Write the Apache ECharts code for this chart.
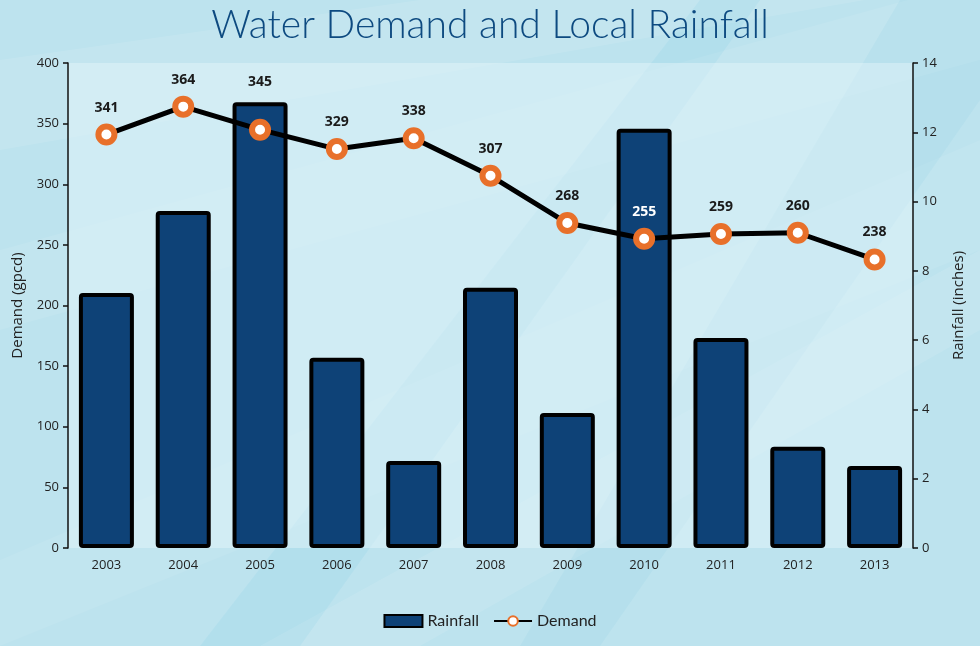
<!DOCTYPE html>
<html><head><meta charset="utf-8">
<script src="https://cdn.jsdelivr.net/npm/echarts@6/dist/echarts.min.js"></script>
<style>html,body{margin:0;padding:0;background:#bde3ee;}#c{width:980px;height:646px;}</style>
</head><body><div id="c"></div>
<script>
const years = ['2003','2004','2005','2006','2007','2008','2009','2010','2011','2012','2013'];
const rainfall = [7.36, 9.73, 12.87, 5.49, 2.51, 7.51, 3.90, 12.10, 6.06, 2.92, 2.37];
const demand = [341, 364, 345, 329, 338, 307, 268, 255, 259, 260, 238];
const demandTicks = [0, 400, 50];
const rainTicks = [0, 14, 2];

const chart = echarts.init(document.getElementById('c'), null, {renderer:'canvas'});

function ray(points, op){
  return {type:'polygon', silent:true, z:-10, shape:{points:points}, style:{fill:'rgba(255,255,255,'+op+')'}};
}
function dark(points, op){
  return {type:'polygon', silent:true, z:-10, shape:{points:points}, style:{fill:'rgba(120,200,225,'+op+')'}};
}
const rays = [
  ray([[0,150],[0,60],[560,-20],[980,-20]],0.10),
  ray([[0,330],[0,250],[980,-20],[980,60]],0.08),
  ray([[0,646],[0,560],[980,140],[980,250]],0.07),
  ray([[260,646],[420,646],[980,330],[980,250]],0.10),
  dark([[700,0],[760,0],[300,646],[200,646]],0.15),
  dark([[900,0],[980,0],[980,100],[600,646],[520,646]],0.12)
];

const demandData = demand.map((v,i)=>{
  const pt = v/400*14;
  const insideBar = pt < rainfall[i];
  const nearTop = insideBar && (rainfall[i] - pt) < 1.2;
  return {value:v, label: nearTop ? {color:'#1a1a1a', distance:30} : {color: insideBar ? '#ffffff' : '#1a1a1a'}};
});

chart.setOption({
  backgroundColor:'#bde3ee',
  graphic: rays,
  title:{text:'Water Demand and Local Rainfall', left:'center', top:1,
    textStyle:{color:'#0d4a80', fontSize:39, fontWeight:300, fontFamily:'Lato'}},
  grid:{left:68, right:67, top:63, bottom:98, outerBoundsMode:'none', containLabel:false,
    show:true, backgroundColor:'rgba(230,246,250,0.45)', borderWidth:0},
  legend:{bottom:12, left:'center', itemGap:14, itemWidth:38, itemHeight:12,
    textStyle:{fontSize:16, color:'#222', fontFamily:'Lato'},
    data:[{name:'Rainfall', icon:'rect'}, {name:'Demand'}]},
  xAxis:{type:'category', data:years, axisLine:{show:false}, axisTick:{show:false},
    axisLabel:{color:'#222', fontSize:13, margin:11, fontFamily:'Open Sans'}},
  yAxis:[
    {type:'value', min:demandTicks[0], max:demandTicks[1], interval:demandTicks[2],
      name:'Demand (gpcd)', nameLocation:'middle', nameGap:43,
      nameTextStyle:{color:'#222', fontSize:15, fontFamily:'Open Sans'},
      axisLine:{show:true, lineStyle:{color:'#111', width:1.5}},
      axisTick:{show:true, length:5, lineStyle:{color:'#111', width:1.5}},
      axisLabel:{color:'#222', fontSize:13, margin:9, fontFamily:'Open Sans'},
      splitLine:{show:false}},
    {type:'value', min:rainTicks[0], max:rainTicks[1], interval:rainTicks[2],
      name:'Rainfall (inches)', nameLocation:'middle', nameGap:38,
      nameTextStyle:{color:'#222', fontSize:15, fontFamily:'Open Sans'},
      axisLine:{show:true, lineStyle:{color:'#111', width:1.5}},
      axisTick:{show:true, length:5, lineStyle:{color:'#111', width:1.5}},
      axisLabel:{color:'#222', fontSize:13, margin:9, fontFamily:'Open Sans'},
      splitLine:{show:false}}
  ],
  series:[
    {name:'Rainfall', type:'bar', yAxisIndex:1, data:rainfall, barWidth:55,
      itemStyle:{color:'#0e4277', borderColor:'#000', borderWidth:4, borderRadius:2}},
    {name:'Demand', type:'line', yAxisIndex:0, data:demandData, symbol:'circle', symbolSize:16,
      lineStyle:{color:'#000', width:5},
      itemStyle:{color:'#ffffff', borderColor:'#e8702a', borderWidth:6},
      label:{show:true, position:'top', distance:9, fontSize:14, fontWeight:'bold', fontFamily:'Open Sans'},
      z:5}
  ]
});
</script></body></html>
